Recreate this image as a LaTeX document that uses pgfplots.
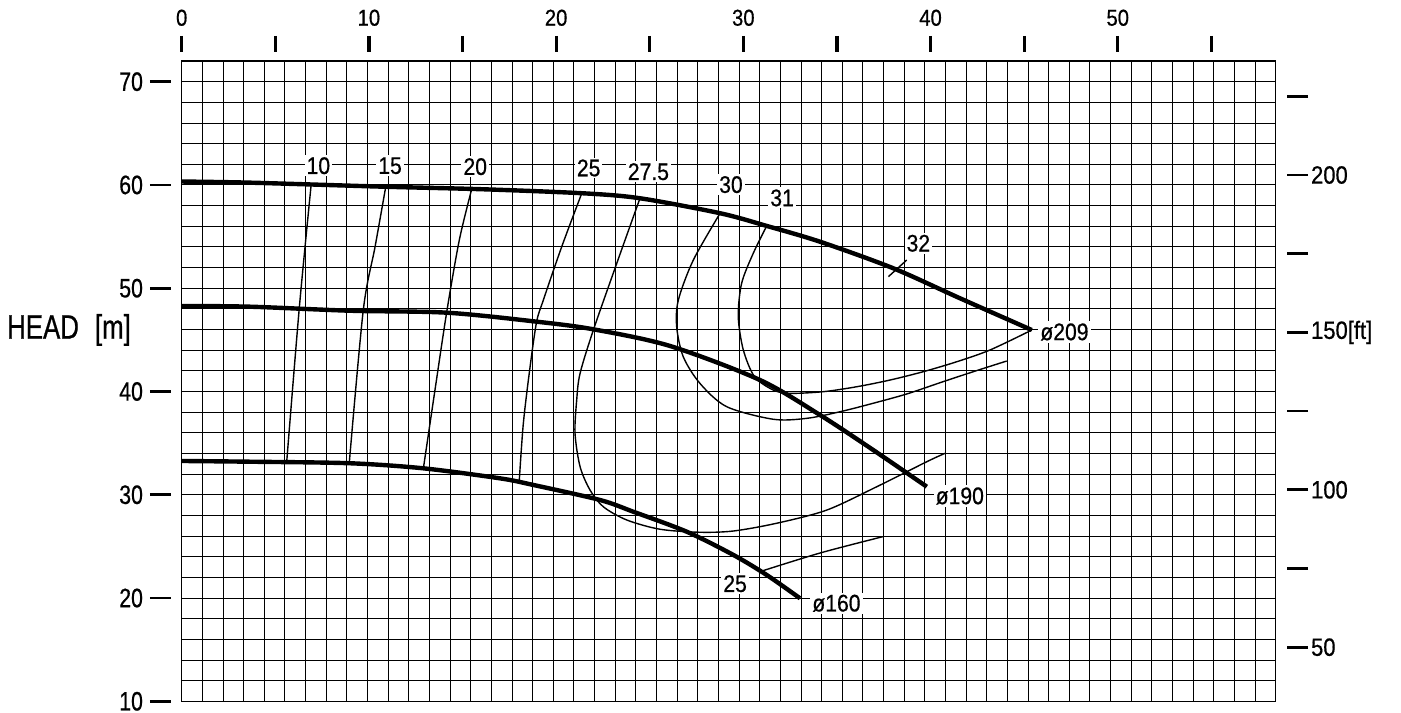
\documentclass[border=0pt]{standalone}
\usepackage{fontspec}
\setmainfont{Liberation Sans}[FakeStretch=0.88, FakeBold=0.6]
\newfontfamily\narrowfont{Liberation Sans}[FakeStretch=0.8, FakeBold=0.6]
\newfontfamily\headfont{Liberation Sans}[FakeStretch=0.76, FakeBold=0.6]
\usepackage{pgfplots}
\usepackage{pgfplotstable}
\pgfplotsset{compat=1.18}

% head curves, flow (top scale) vs head [m]
\pgfplotstableread{
x y
0.00 60.33
3.65 60.22
10.77 59.83
16.11 59.58
21.45 59.19
24.48 58.71
28.76 57.26
31.25 56.03
34.10 54.50
38.01 51.93
41.58 49.02
45.41 45.95
}\dA
\pgfplotstableread{
x y
0.00 48.28
3.65 48.21
8.99 47.82
14.16 47.63
18.96 46.76
21.99 46.02
26.08 44.41
30.89 41.11
34.10 37.72
36.94 34.33
39.80 30.78
}\dB
\pgfplotstableread{
x y
0.00 33.27
3.65 33.20
8.99 33.05
12.91 32.56
17.00 31.59
18.78 30.95
22.35 29.49
24.12 28.36
26.98 26.42
29.47 24.17
31.25 22.23
33.03 19.97
}\dC

\pgfplotsset{
  frame/.style={scale only axis, width=547pt, height=320.15pt,
    xmin=0, xmax=58.438, ymin=10, ymax=72, at={(0,0)}, anchor=south west},
  head/.style={black, line width=2.2pt, smooth},
  eff/.style={black, line width=0.7pt, smooth},
}
\tikzset{lbl/.style={fill=white, inner sep=1pt, font=\fontsize{12}{14}\selectfont}}

\begin{document}
\begin{tikzpicture}
\useasboundingbox (-90.85pt,-5.35pt) rectangle (609.65pt,350.65pt);

% grid and curves
\begin{axis}[frame, clip=false,
  xtick={0,1.1026,...,58.5}, ytick={10,12,...,72},
  xticklabels={}, yticklabels={}, major tick length=0pt,
  grid=major, grid style={black, line width=0.45pt},
  axis line style={black, line width=0.6pt},
]
\addplot[head] table {\dA};
\addplot[head] table {\dB};
\addplot[head] table {\dC};

% efficiency lines
\addplot[eff] coordinates {(6.91,59.93) (6.28,48.06) (5.61,33.20)};
\addplot[eff] coordinates {(10.90,59.83) (10.33,54.02) (9.70,47.89) (8.95,33.05)};
\addplot[eff] coordinates {(15.49,59.58) (14.83,54.67) (14.16,47.73) (13.53,40.15) (12.91,32.56)};
\addplot[eff] coordinates {(21.37,59.19) (20.30,54.02) (19.32,48.86) (18.96,46.76)
  (18.61,42.40) (18.25,36.92) (18.03,31.30)};
\addplot[eff] coordinates {(30.88,22.55) (34.10,24.36) (37.45,25.94)};
\addplot[eff] coordinates {(24.48,58.71) (23.24,52.41) (21.99,45.95) (21.28,41.76)
  (21.10,39.19) (21.01,35.95) (21.28,32.72) (21.81,30.46) (22.52,28.84)
  (23.77,27.56) (25.55,26.66) (27.68,26.37) (29.47,26.49) (31.78,27.24)
  (34.46,28.52) (37.13,30.78) (39.80,33.20) (40.77,34.01)};
\addplot[eff] coordinates {(28.76,57.26) (27.33,52.73) (26.53,48.86) (26.44,46.27)
  (26.79,43.37) (27.68,40.79) (29.11,38.53) (31.60,37.31) (33.39,37.40)
  (35.17,38.04) (36.94,38.86) (38.73,39.76) (40.51,40.85) (42.29,41.92)
  (44.07,42.95)};
\addplot[eff] coordinates {(31.25,56.03) (30.53,53.38) (29.91,50.48) (29.73,47.24)
  (30.00,44.02) (30.60,41.43) (31.60,40.14) (32.49,39.82) (34.27,39.98)
  (36.06,40.46) (37.84,41.11) (39.62,41.92) (41.40,42.88) (43.18,44.02)
  (45.41,45.95)};
\addplot[eff] coordinates {(37.75,51.12) (38.73,52.73)};

\node[lbl] at (axis cs:7.30,61.86) {10};
\node[lbl] at (axis cs:11.13,61.86) {15};
\node[lbl] at (axis cs:15.68,61.77) {20};
\node[lbl] at (axis cs:21.74,61.64) {25};
\node[lbl] at (axis cs:24.93,61.28) {27.5};
\node[lbl] at (axis cs:29.34,60.03) {30};
\node[lbl] at (axis cs:32.07,58.74) {31};
\node[lbl] at (axis cs:39.35,54.35) {32};
\node[lbl] at (axis cs:29.56,21.39) {25};
\node[lbl, anchor=west] at (axis cs:45.74,45.76) {ø209};
\node[lbl, anchor=west] at (axis cs:40.15,29.88) {ø190};
\node[lbl, anchor=west] at (axis cs:33.56,19.49) {ø160};
\node[font=\headfont\fontsize{17}{20}\selectfont] at (rel axis cs:-0.103,0.580)
  {HEAD\hspace{8pt}[m]};
\end{axis}

% top flow scale
\begin{axis}[frame,
  axis x line*=top, axis y line=none, x axis line style={draw=none},
  axis x line shift=8.6pt,
  xtick={0,5,...,55}, xticklabels={0,,10,,20,,30,,40,,50,},
  tick align=center, major tick length=7.8pt,
  tick style={black, line width=1.6pt},
  xticklabel style={font=\fontsize{11.5}{13}\selectfont, yshift=1.5pt},
]
\end{axis}

% left head scale [m]
\begin{axis}[frame,
  axis y line*=left, axis x line=none, y axis line style={draw=none},
  axis y line shift=10.6pt,
  ytick={10,20,...,70}, yticklabels={10,20,30,40,50,60,70},
  tick align=center, major tick length=10.5pt,
  tick style={black, line width=1.4pt},
  yticklabel style={font=\narrowfont\fontsize{13.3}{15}\selectfont},
]
\end{axis}

% right head scale [ft]
\begin{axis}[frame, ymin=32.808, ymax=236.22,
  axis y line*=right, axis x line=none, y axis line style={draw=none},
  axis y line shift=10.9pt,
  ytick={50,75,...,225}, yticklabels={50,,100,,{150[ft]},,200,},
  tick align=center, major tick length=10.5pt,
  tick style={black, line width=1.4pt},
  yticklabel style={font=\fontsize{12.5}{15}\selectfont, xshift=-2pt},
]
\end{axis}
\end{tikzpicture}
\end{document}
